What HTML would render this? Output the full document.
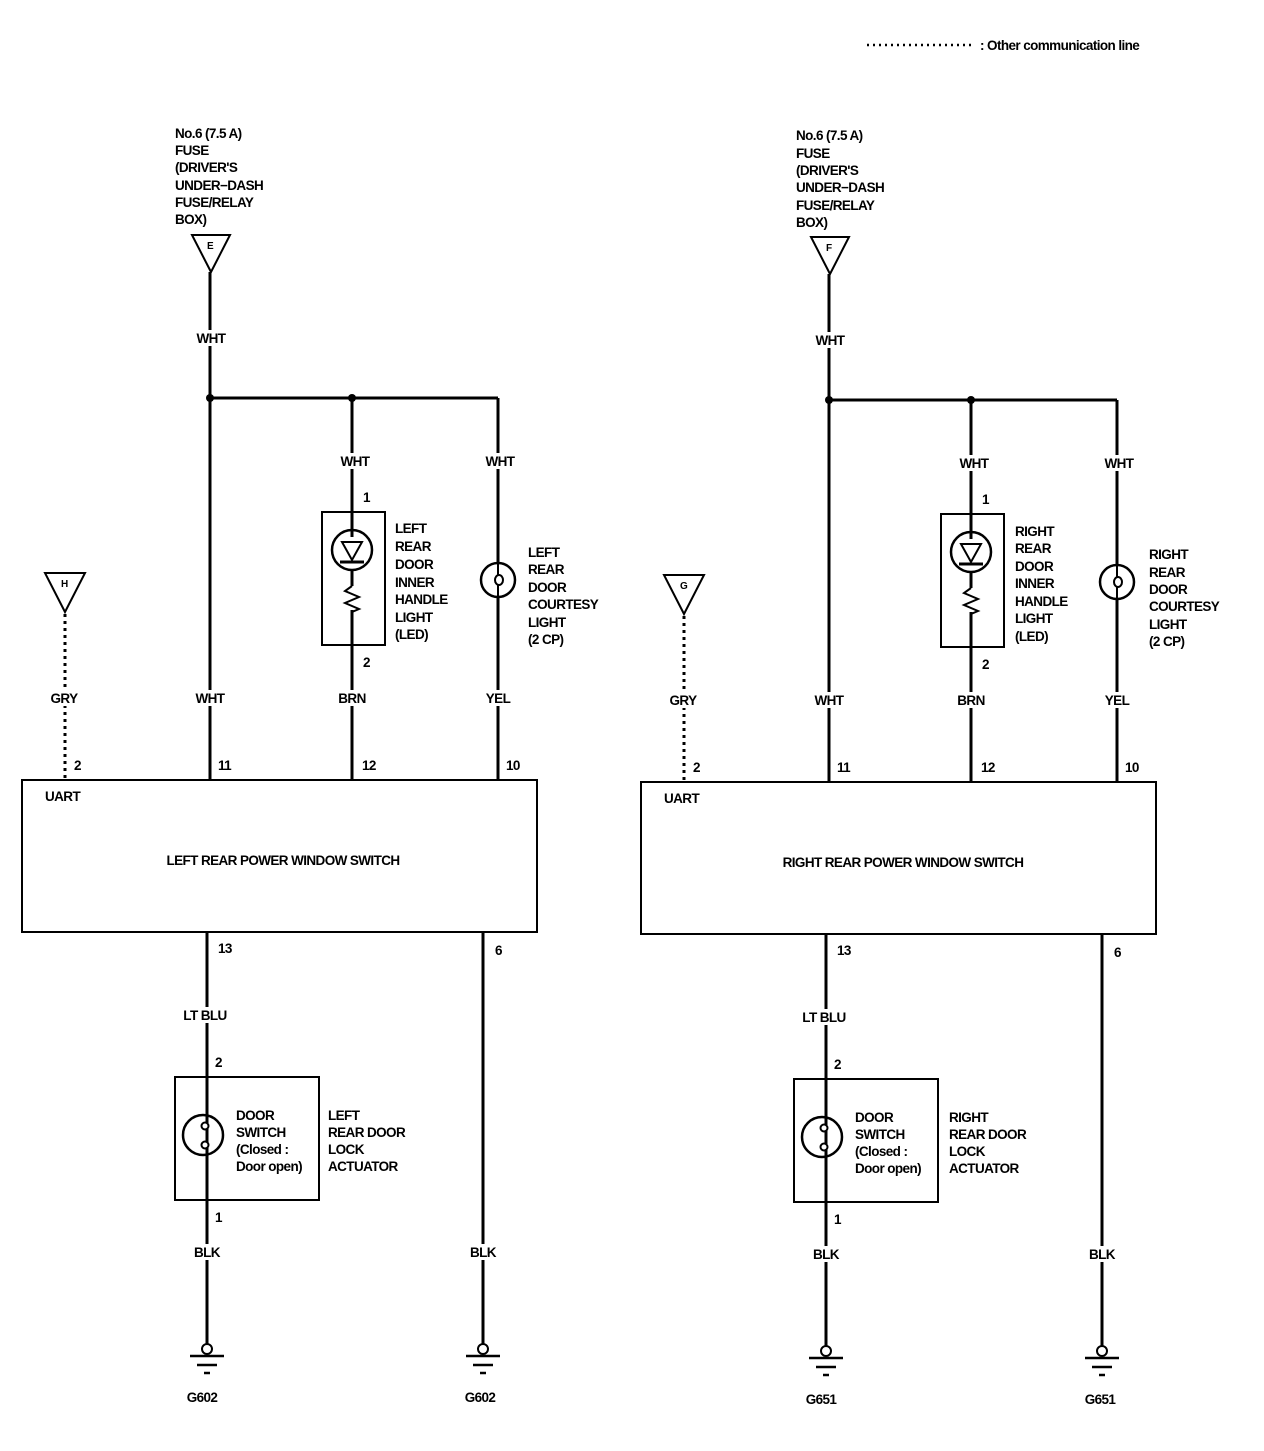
<!DOCTYPE html>
<html><head><meta charset="utf-8"><style>
body{margin:0;background:#fff}
svg text{font-family:"Liberation Sans",sans-serif;font-weight:bold;font-size:13.5px;letter-spacing:-0.6px;fill:#000}
</style></head><body>
<svg width="1264" height="1446" viewBox="0 0 1264 1446" xmlns="http://www.w3.org/2000/svg">
<line x1="867" y1="45" x2="975" y2="45" stroke="#000" stroke-width="2.5" stroke-dasharray="2,4"/>
<text x="980" y="50">: Other communication line</text>

<defs>
<g id="half">
  <g stroke="#000" fill="none">
    <polygon points="192,235 230,235 211,272" stroke-width="2"/>
    <line x1="210" y1="272" x2="210" y2="780" stroke-width="3"/>
    <line x1="210" y1="398" x2="498" y2="398" stroke-width="3"/>
    <line x1="352" y1="398" x2="352" y2="537" stroke-width="3"/>
    <line x1="352" y1="610" x2="352" y2="780" stroke-width="3"/>
    <rect x="322" y="512" width="63" height="133" stroke-width="2"/>
    <circle cx="352" cy="550" r="20" stroke-width="2.5"/>
    <polygon points="342,542 362,542 352,560" stroke-width="2"/>
    <line x1="340" y1="562" x2="364" y2="562" stroke-width="3"/>
    <line x1="352" y1="570" x2="352" y2="586" stroke-width="3"/>
    <polyline points="352,586 345,591 359,597 345,603 359,609 352,612" stroke-width="2"/>
    <line x1="498" y1="398" x2="498" y2="780" stroke-width="3"/>
    <circle cx="498" cy="580" r="17" stroke-width="2.5" fill="#fff"/>
    <line x1="498" y1="563" x2="498" y2="575" stroke-width="2"/>
    <line x1="498" y1="585" x2="498" y2="597" stroke-width="2"/>
    <ellipse cx="499" cy="580" rx="4" ry="5" stroke-width="2"/>
    <polygon points="45,573 85,573 65,612" stroke-width="2"/>
    <line x1="65" y1="614" x2="65" y2="780" stroke-width="3" stroke-dasharray="3,4"/>
    <rect x="22" y="780" width="515" height="152" stroke-width="2"/>
    <line x1="207" y1="932" x2="207" y2="1345" stroke-width="3"/>
    <line x1="483" y1="932" x2="483" y2="1345" stroke-width="3"/>
    <rect x="175" y="1077" width="144" height="123" stroke-width="2"/>
    <circle cx="203" cy="1135" r="20" stroke-width="2.5"/>
    <circle cx="205" cy="1126" r="3.5" stroke-width="2" fill="#fff"/>
    <circle cx="205" cy="1145" r="3.5" stroke-width="2" fill="#fff"/>
    <circle cx="207" cy="1349" r="5" stroke-width="2" fill="#fff"/>
    <circle cx="483" cy="1349" r="5" stroke-width="2" fill="#fff"/>
    <g stroke-width="2.5">
    <line x1="190" y1="1356" x2="224" y2="1356"/><line x1="197" y1="1365" x2="217" y2="1365"/><line x1="204" y1="1373" x2="210" y2="1373"/>
    <line x1="466" y1="1356" x2="500" y2="1356"/><line x1="473" y1="1365" x2="493" y2="1365"/><line x1="480" y1="1373" x2="486" y2="1373"/>
    </g>
  </g>
  <g fill="#fff">
    <rect x="195" y="330" width="32" height="16"/>
    <rect x="339" y="453" width="32" height="16"/>
    <rect x="484" y="453" width="32" height="16"/>
    <rect x="194" y="690" width="32" height="16"/>
    <rect x="336" y="690" width="32" height="16"/>
    <rect x="484" y="690" width="28" height="16"/>
    <rect x="49" y="690" width="30" height="16"/>
    <rect x="182" y="1007" width="46" height="16"/>
    <rect x="193" y="1244" width="28" height="16"/>
    <rect x="469" y="1244" width="28" height="16"/>
  </g>
  <circle cx="210" cy="398" r="4"/><circle cx="352" cy="398" r="4"/>
  <text x="211" y="343" text-anchor="middle">WHT</text>
  <text x="355" y="466" text-anchor="middle">WHT</text>
  <text x="500" y="466" text-anchor="middle">WHT</text>
  <text x="363" y="502">1</text><text x="363" y="667">2</text>
  <text x="210" y="703" text-anchor="middle">WHT</text>
  <text x="352" y="703" text-anchor="middle">BRN</text>
  <text x="498" y="703" text-anchor="middle">YEL</text>
  <text x="64" y="703" text-anchor="middle">GRY</text>
  <text x="74" y="770">2</text><text x="218" y="770">11</text><text x="362" y="770">12</text><text x="506" y="770">10</text>
  <text x="45" y="801">UART</text>
  <text x="218" y="953">13</text><text x="495" y="955">6</text>
  <text x="205" y="1020" text-anchor="middle">LT BLU</text>
  <text x="215" y="1067">2</text><text x="215" y="1222">1</text>
  <text x="207" y="1257" text-anchor="middle">BLK</text>
  <text x="483" y="1257" text-anchor="middle">BLK</text>
  <text x="236" y="1120">DOOR</text><text x="236" y="1137">SWITCH</text><text x="236" y="1154">(Closed :</text><text x="236" y="1171">Door open)</text>
</g>
</defs>

<use href="#half"/>
<use href="#half" transform="translate(619,2)"/>

<text x="175" y="138">No.6 (7.5 A)</text><text x="175" y="155">FUSE</text><text x="175" y="172">(DRIVER'S</text><text x="175" y="190">UNDER−DASH</text><text x="175" y="207">FUSE/RELAY</text><text x="175" y="224">BOX)</text>
<text x="207" y="249" style="font-size:10px">E</text>
<text x="61" y="587" style="font-size:10px">H</text>
<text x="395" y="533">LEFT</text><text x="395" y="551">REAR</text><text x="395" y="569">DOOR</text><text x="395" y="587">INNER</text><text x="395" y="604">HANDLE</text><text x="395" y="622">LIGHT</text><text x="395" y="639">(LED)</text>
<text x="528" y="557">LEFT</text><text x="528" y="574">REAR</text><text x="528" y="592">DOOR</text><text x="528" y="609">COURTESY</text><text x="528" y="627">LIGHT</text><text x="528" y="644">(2 CP)</text>
<text x="283" y="865" text-anchor="middle">LEFT REAR POWER WINDOW SWITCH</text>
<text x="328" y="1120">LEFT</text><text x="328" y="1137">REAR DOOR</text><text x="328" y="1154">LOCK</text><text x="328" y="1171">ACTUATOR</text>
<text x="202" y="1402" text-anchor="middle">G602</text><text x="480" y="1402" text-anchor="middle">G602</text>

<text x="796" y="140">No.6 (7.5 A)</text><text x="796" y="158">FUSE</text><text x="796" y="175">(DRIVER'S</text><text x="796" y="192">UNDER−DASH</text><text x="796" y="210">FUSE/RELAY</text><text x="796" y="227">BOX)</text>
<text x="826" y="251" style="font-size:10px">F</text>
<text x="680" y="589" style="font-size:10px">G</text>
<text x="1015" y="536">RIGHT</text><text x="1015" y="553">REAR</text><text x="1015" y="571">DOOR</text><text x="1015" y="588">INNER</text><text x="1015" y="606">HANDLE</text><text x="1015" y="623">LIGHT</text><text x="1015" y="641">(LED)</text>
<text x="1149" y="559">RIGHT</text><text x="1149" y="577">REAR</text><text x="1149" y="594">DOOR</text><text x="1149" y="611">COURTESY</text><text x="1149" y="629">LIGHT</text><text x="1149" y="646">(2 CP)</text>
<text x="903" y="867" text-anchor="middle">RIGHT REAR POWER WINDOW SWITCH</text>
<text x="949" y="1122">RIGHT</text><text x="949" y="1139">REAR DOOR</text><text x="949" y="1156">LOCK</text><text x="949" y="1173">ACTUATOR</text>
<text x="821" y="1404" text-anchor="middle">G651</text><text x="1100" y="1404" text-anchor="middle">G651</text>
</svg>
</body></html>
